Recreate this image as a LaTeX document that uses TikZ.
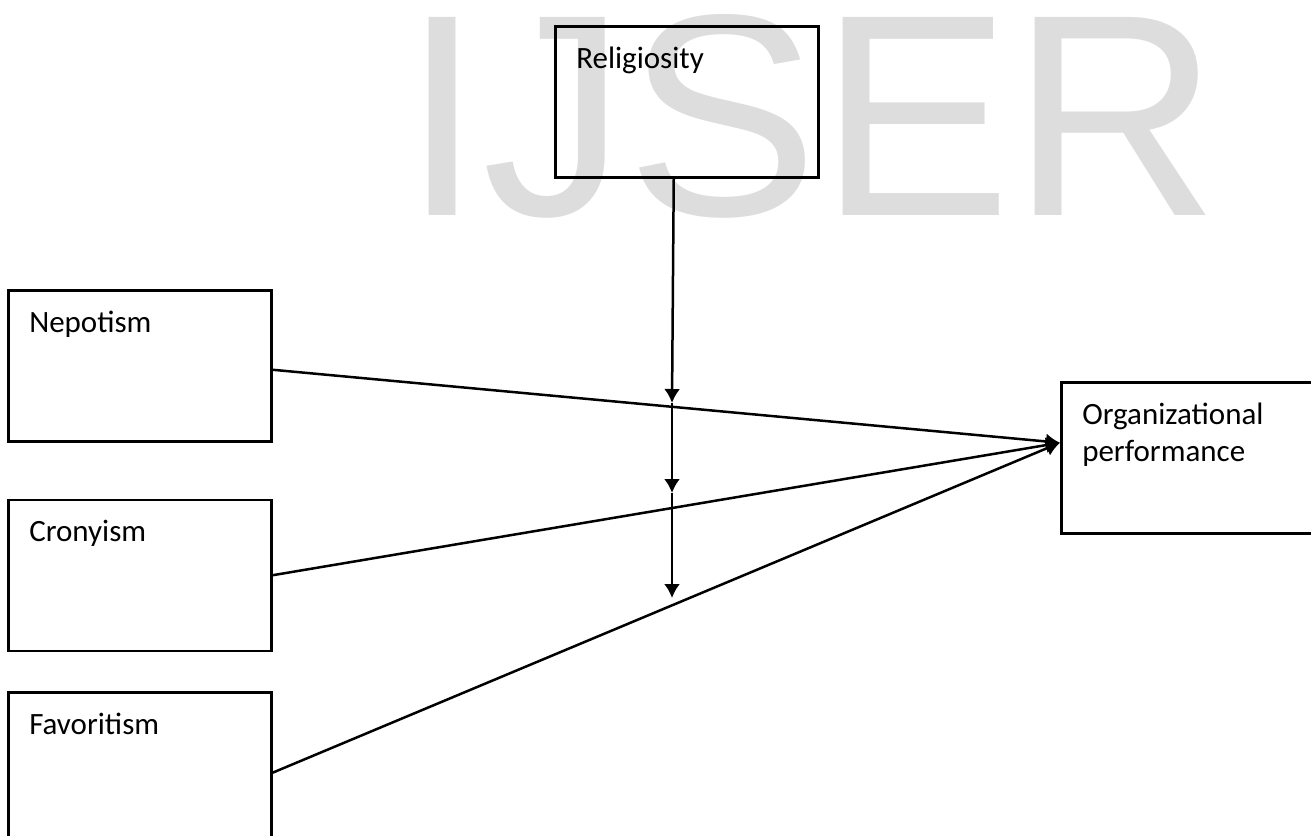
\documentclass[tikz,border=0pt]{standalone}
\usepackage{fontspec}
\setmainfont{Carlito}
\newfontfamily\markfont{Liberation Sans}
\usetikzlibrary{arrows.meta, positioning, shapes}
\definecolor{watermark}{RGB}{221,221,221}

\begin{document}
\begin{tikzpicture}[node distance=19.5pt, x=0.5pt, y=-0.5pt]
  \tikzstyle{block} = [rectangle, draw, line width=1.25pt, text=black, anchor=north west,
      text width=110.5pt, align=left, inner xsep=10.5pt, inner ysep=0pt,
      text height=21pt, text depth=54.5pt, font=\fontsize{15.5}{18.5}\selectfont]
  \tikzstyle{line} = [draw, line width=1.25pt, -{Latex[length=7pt, width=8pt]}]
  \useasboundingbox (0,0) rectangle (1311,835);
      % watermark
      \node [text=watermark, inner sep=0pt, font=\markfont\fontsize{144}{144}\selectfont] (mark) at (811,116) {IJSER};
      % Place nodes
      \node [block] (relig) at (554,25) {Religiosity};
      \node [block] (nepo) at (7,289) {Nepotism};
      \node [block, below=28pt of nepo] (crony) {Cronyism};
      \node [block, below=of crony] (favo) {Favoritism};
      \node [block] (org) at (1060,381) {Organizational\\performance};
      \coordinate (hub) at ([yshift=7.5pt]org.west);
      \coordinate (rtop) at ([xshift=-6.5pt]relig.south);
      \coordinate (r1) at (672,403);
      \coordinate (r2) at (672,493);
      \coordinate (r3) at (672,598);

  %paths
      \path [line] ([yshift=-2pt]nepo.east) -- (hub);
      \path [line] (crony.east) -- (hub);
      \path [line] ([yshift=-2.5pt]favo.east) -- (hub);
      \path [line] (rtop) -- (r1);
      \path [line] (r1) -- (r2);
      \path [line] (r2) -- (r3);

  \end{tikzpicture}
\end{document}
